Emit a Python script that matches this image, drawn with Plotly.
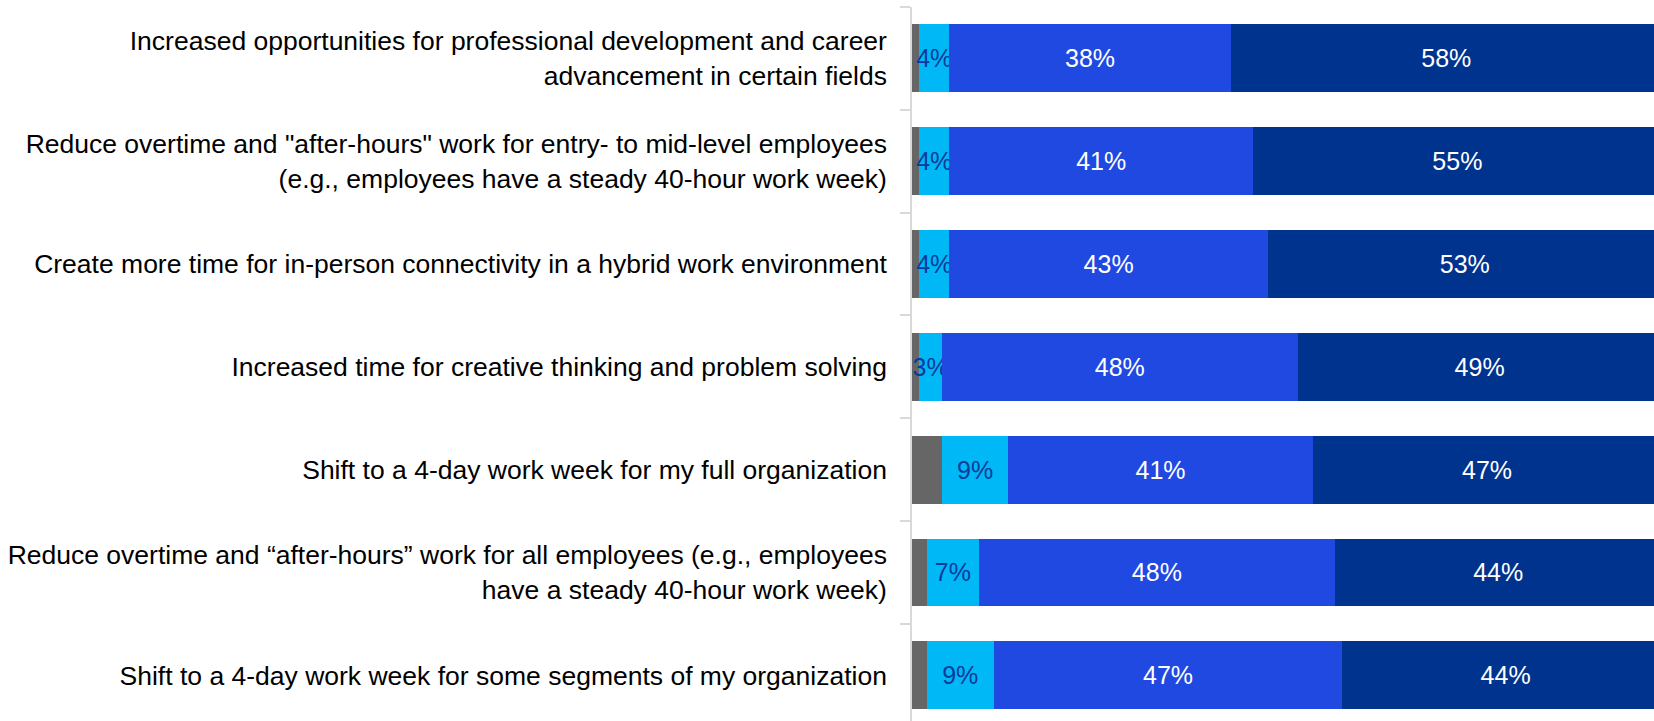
import plotly.graph_objects as go

categories = [
    "Increased opportunities for professional development and career<br>advancement in certain fields",
    "Reduce overtime and \"after-hours\" work for entry- to mid-level employees<br>(e.g., employees have a steady 40-hour work week)",
    "Create more time for in-person connectivity in a hybrid work environment",
    "Increased time for creative thinking and problem solving",
    "Shift to a 4-day work week for my full organization",
    "Reduce overtime and “after-hours” work for all employees (e.g., employees<br>have a steady 40-hour work week)",
    "Shift to a 4-day work week for some segments of my organization",
]

not_applicable = [1, 1, 1, 1, 4, 2, 2]
somewhat_low = [4, 4, 4, 3, 9, 7, 9]
somewhat_high = [38, 41, 43, 48, 41, 48, 47]
very_high = [58, 55, 53, 49, 47, 44, 44]

series = [
    (not_applicable, "#666666", None),
    (somewhat_low, "#00B8F5", "#0A3A9C"),
    (somewhat_high, "#1F49E1", "#FFFFFF"),
    (very_high, "#00338D", "#FFFFFF"),
]

fig = go.Figure()
for values, color, text_color in series:
    fig.add_trace(go.Bar(
        y=categories,
        x=values,
        orientation="h",
        marker=dict(color=color, line=dict(width=0)),
        text=[f"{v}%" for v in values] if text_color else None,
        textposition="inside" if text_color else "none",
        insidetextanchor="middle",
        textangle=0,
        constraintext="none",
        textfont=dict(color=text_color or "#FFFFFF", size=25,
                      family="Liberation Sans, Arial, sans-serif"),
        hoverinfo="skip",
    ))

fig.update_layout(
    barmode="stack",
    bargap=0.34,
    width=1654,
    height=721,
    margin=dict(l=912, r=0, t=7, b=0, autoexpand=False),
    paper_bgcolor="white",
    plot_bgcolor="white",
    showlegend=False,
    font=dict(family="Liberation Sans, Arial, sans-serif", size=26.5, color="#000000"),
)
fig.update_xaxes(range=[0, 100], visible=False, fixedrange=True)
fig.update_yaxes(
    range=[6.445, -0.5],
    showline=True,
    linecolor="#D9D9D9",
    linewidth=1.5,
    ticks="outside",
    tickson="boundaries",
    ticklen=10,
    tickcolor="#D9D9D9",
    tickwidth=1.5,
    ticklabelstandoff=18,
    showgrid=False,
    automargin=False,
    tickfont=dict(size=26.5, color="#000000"),
)

fig.write_html("out.html")
